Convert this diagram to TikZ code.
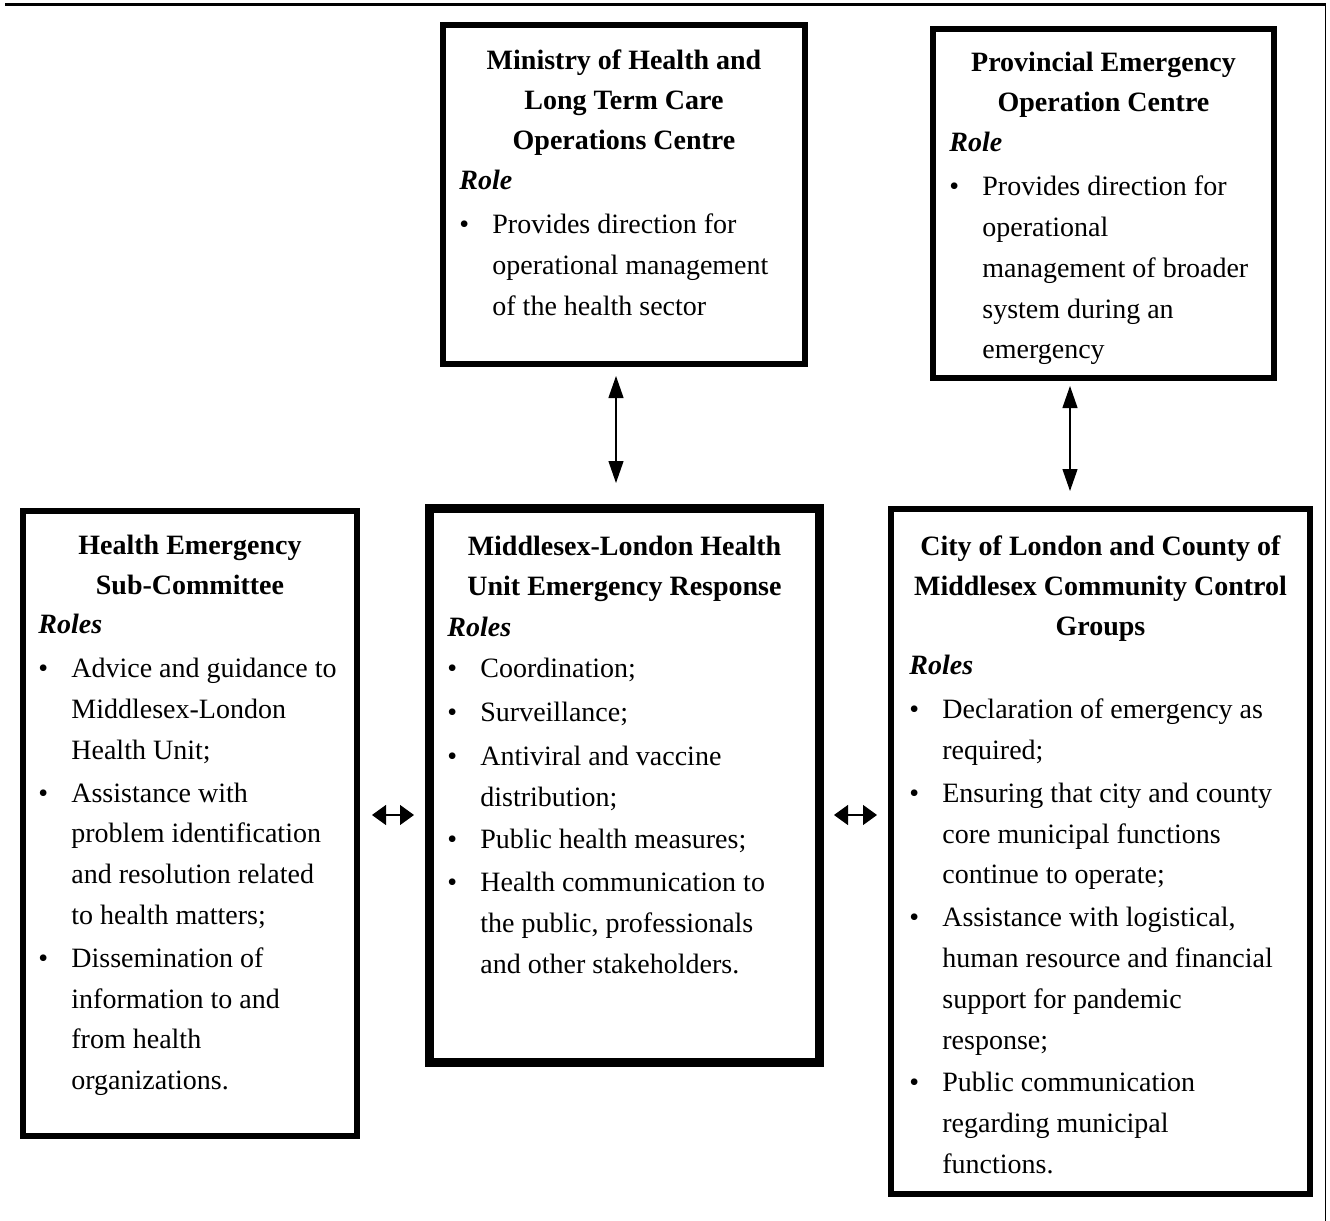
\documentclass[tikz,border=0pt]{standalone}
\usepackage{fontspec}
\setmainfont{Liberation Serif}
\usetikzlibrary{arrows.meta,fit,positioning}
\tikzset{
  box/.style={draw,line width=3pt,inner sep=0pt},
  mainbox/.style={draw,line width=4.5pt,inner sep=0pt},
  head/.style={align=center,inner sep=0pt,font=\fontsize{14}{20}\selectfont\bfseries},
  body/.style={inner sep=0pt,anchor=north west,font=\fontsize{14}{20.4}\selectfont},
  vlink/.style={line width=0.6pt,{Triangle[length=11pt,width=7.5pt]}-{Triangle[length=11pt,width=7.5pt]}},
  hlink/.style={line width=0.6pt,{Triangle[length=7pt,width=10pt]}-{Triangle[length=7pt,width=10pt]}},
}
\newcommand{\rolehead}[2]{\multicolumn{2}{@{}l@{}}{\textbf{\textit{#1}}}\\[#2]}
\newcommand{\bul}{\textbullet}

\begin{document}
\begin{tikzpicture}[x=0.5pt,y=-0.5pt]
	\useasboundingbox (0,0) rectangle (1330,1221);
	\draw[line width=1.5pt] (5,4.5) -- (1325,4.5);
	\draw[line width=0.5pt] (1325,3) -- (1325,1221);

	\node[box,fit={(443,25) (805,364)}] (moh) {};
	\node[box,fit={(933,29) (1274,378)}] (peoc) {};
	\node[box,fit={(23,511) (357,1136)}] (hesc) {};
	\node[mainbox,fit={(429.5,508.5) (819.5,1062.5)}] (mlhu) {};
	\node[box,fit={(891,509) (1310,1194)}] (ccg) {};

	\node[head,below=13.5pt of moh.north] (moh head) {Ministry of Health and\\Long Term Care\\Operations Centre};
	\node[body] (moh body) at (459,161) {\begin{tabular}{@{}p{16.5pt}@{}l@{}}
		\rolehead{Role}{1.5pt}
		\bul & Provides direction for\\
		& operational management\\
		& of the health sector
	\end{tabular}};

	\node[head,below=13pt of peoc.north] (peoc head) {Provincial Emergency\\Operation Centre};
	\node[body] (peoc body) at (949,123) {\begin{tabular}{@{}p{16.5pt}@{}l@{}}
		\rolehead{Role}{1.5pt}
		\bul & Provides direction for\\
		& operational\\
		& management of broader\\
		& system during an\\
		& emergency
	\end{tabular}};

	\node[head,below=13.5pt of hesc.north] (hesc head) {Health Emergency\\Sub-Committee};
	\node[body] (hesc body) at (38,605) {\begin{tabular}{@{}p{16.5pt}@{}l@{}}
		\rolehead{Roles}{1.5pt}
		\bul & Advice and guidance to\\
		& Middlesex-London\\
		& Health Unit;\\[1pt]
		\bul & Assistance with\\
		& problem identification\\
		& and resolution related\\
		& to health matters;\\[1pt]
		\bul & Dissemination of\\
		& information to and\\
		& from health\\
		& organizations.
	\end{tabular}};

	\node[head,below=16pt of mlhu.north] (mlhu head) {Middlesex-London Health\\Unit Emergency Response};
	\node[body] (mlhu body) at (447,608) {\begin{tabular}{@{}p{16.5pt}@{}l@{}}
		\rolehead{Roles}{0pt}
		\bul & Coordination;\\[1.5pt]
		\bul & Surveillance;\\[1.5pt]
		\bul & Antiviral and vaccine\\
		& distribution;\\[1pt]
		\bul & Public health measures;\\[1pt]
		\bul & Health communication to\\
		& the public, professionals\\
		& and other stakeholders.
	\end{tabular}};

	\node[head,below=14.5pt of ccg.north] (ccg head) {City of London and County of\\Middlesex Community Control\\Groups};
	\node[body] (ccg body) at (909,646) {\begin{tabular}{@{}p{16.5pt}@{}l@{}}
		\rolehead{Roles}{1.5pt}
		\bul & Declaration of emergency as\\
		& required;\\[1pt]
		\bul & Ensuring that city and county\\
		& core municipal functions\\
		& continue to operate;\\[1pt]
		\bul & Assistance with logistical,\\
		& human resource and financial\\
		& support for pandemic\\
		& response;\\[1pt]
		\bul & Public communication\\
		& regarding municipal\\
		& functions.
	\end{tabular}};

	\draw[vlink,shorten <=4.5pt,shorten >=10.5pt] ([xshift=-4pt]moh.south) -- ([xshift=-4pt]moh.south |- mlhu.north);
	\draw[vlink,shorten <=2.5pt,shorten >=7.5pt] ([xshift=-16.75pt]peoc.south) -- ([xshift=-16.75pt]peoc.south |- ccg.north);
	\draw[hlink,shorten <=6pt,shorten >=5.5pt] ([yshift=4.25pt]hesc.east) -- ([yshift=4.25pt]hesc.east -| mlhu.west);
	\draw[hlink,shorten <=5pt,shorten >=5.5pt] ([yshift=4.25pt]hesc.east -| mlhu.east) -- ([yshift=4.25pt]hesc.east -| ccg.west);
\end{tikzpicture}
\end{document}
